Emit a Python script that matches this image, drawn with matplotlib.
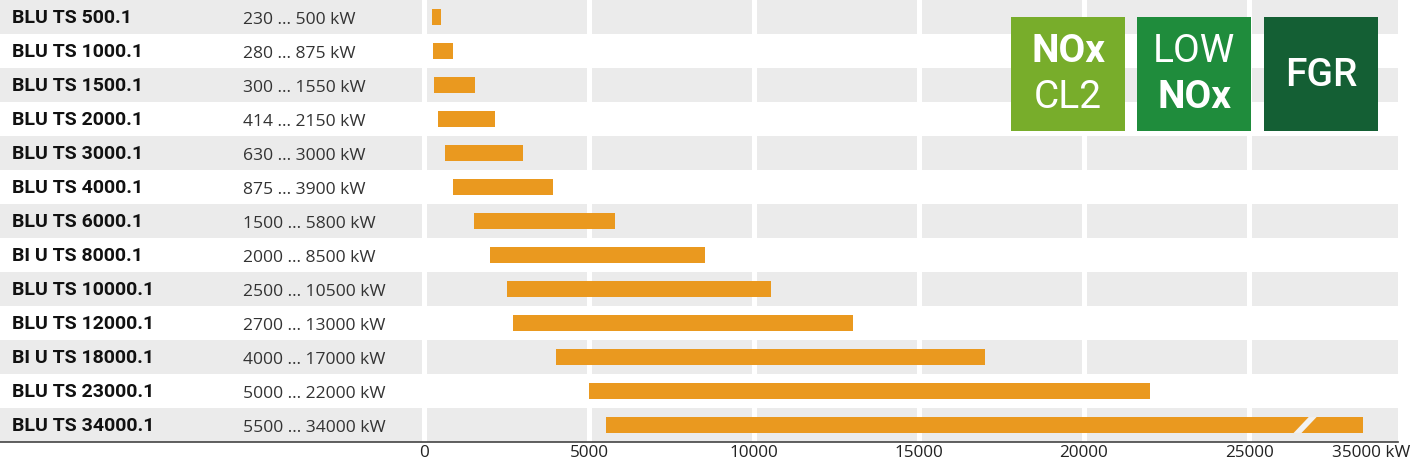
import matplotlib
matplotlib.use("Agg")
import matplotlib.pyplot as plt
from matplotlib.patches import Rectangle, Polygon
import matplotlib.transforms as mtransforms

# -----------------------------------------------------------------------
# Data
# -----------------------------------------------------------------------
models = ["BLU TS 500.1", "BLU TS 1000.1", "BLU TS 1500.1", "BLU TS 2000.1",
          "BLU TS 3000.1", "BLU TS 4000.1", "BLU TS 6000.1", "BI U TS 8000.1",
          "BLU TS 10000.1", "BLU TS 12000.1", "BI U TS 18000.1",
          "BLU TS 23000.1", "BLU TS 34000.1"]
p_min = [230, 280, 300, 414, 630, 875, 1500, 2000, 2500, 2700, 4000, 5000, 5500]
p_max = [500, 875, 1550, 2150, 3000, 3900, 5800, 8500, 10500, 13000, 17000,
         22000, 34000]
tick_values = [0, 5000, 10000, 15000, 20000, 25000, 35000]
tick_labels = ["0", "5000", "10000", "15000", "20000", "25000", "35000 kW"]
badges = [("NOx", "CL2"), ("LOW", "NOx"), ("FGR", None)]
badge_colors = ["#78ad2b", "#1f8c3c", "#145f34"]

# broken axis: everything past BREAK is squeezed
BREAK = 26700
SQUEEZE = 0.24


def fwd(v):
    return v if v <= BREAK else BREAK + (v - BREAK) * SQUEEZE


ORANGE = "#ea991f"
BAND = "#ebebeb"
W, H = 1416, 463
LABEL_FONT = ["Roboto", "DejaVu Sans"]
TEXT_FONT = ["Open Sans", "DejaVu Sans"]

plt.rcParams["font.family"] = TEXT_FONT

fig = plt.figure(figsize=(W / 100, H / 100), dpi=100)
ax = fig.add_axes([0, (H - 442) / H, 1398 / W, 442 / H])
ax.set_xlim(-424 / 33 * 1000, (1398 - 424) / 33 * 1000)
ax.set_ylim(len(models) - 0.5, -0.5)

for i in range(0, len(models), 2):
    ax.axhspan(i - 0.5, i + 0.5, color=BAND, lw=0, zorder=0)
for v in tick_values[:-1]:
    ax.axvline(v, color="white", lw=3.6, zorder=1)

bh = 0.47
starts = [fwd(v) for v in p_min]
ends = [fwd(v) for v in p_max]
ax.barh(range(len(models)), [e - s for s, e in zip(starts, ends)], left=starts,
        height=bh, color=ORANGE, lw=0, zorder=2)

# slanted break mark on the last bar
last = len(models) - 1
half_w, slant = 120, 230
yb, yt = last + bh / 2, last - bh / 2
ax.add_patch(Polygon([(BREAK - slant - half_w, yb), (BREAK - slant + half_w, yb),
                      (BREAK + slant + half_w, yt), (BREAK + slant - half_w, yt)],
                     closed=True, color="#f2f2f2", lw=0, zorder=3))

trans = mtransforms.blended_transform_factory(ax.transAxes, ax.transData)
for i, (m, a, b) in enumerate(zip(models, p_min, p_max)):
    ax.text(12 / 1398, i + 0.04, m, transform=trans, ha="left", va="center",
            fontsize=14, fontweight="bold", color="#111111", family=LABEL_FONT)
    ax.text(243 / 1398, i + 0.08, f"{a} ... {b} kW", transform=trans, ha="left",
            va="center", fontsize=12.6, color="#333333")

for side in ["top", "right", "left"]:
    ax.spines[side].set_visible(False)
ax.spines["bottom"].set_color("#444444")
ax.spines["bottom"].set_linewidth(1.2)
ax.set_yticks([])
ax.set_xticks([fwd(v) for v in tick_values])
ax.set_xticklabels(tick_labels, fontsize=12.3, color="#222222")
ax.tick_params(axis="x", length=0, pad=2)

# badges at top right
bx = [1011, 1137, 1264]
size = 114
for x0, (t1, t2), c in zip(bx, badges, badge_colors):
    fig.patches.append(Rectangle((x0 / W, 1 - (17 + size) / H), size / W, size / H,
                                 transform=fig.transFigure, color=c, lw=0))
    cx = (x0 + size / 2) / W
    if t2 is None:
        fig.text(cx, 1 - 76 / H, t1, ha="center", va="center", fontsize=28,
                 color="white", fontweight="medium", family=LABEL_FONT)
    else:
        w1 = "bold" if t1 == "NOx" else "normal"
        w2 = "bold" if t2 == "NOx" else "normal"
        fig.text(cx, 1 - 52 / H, t1, ha="center", va="center", fontsize=28,
                 color="white", fontweight=w1, family=LABEL_FONT)
        fig.text(cx, 1 - 98 / H, t2, ha="center", va="center", fontsize=28,
                 color="white", fontweight=w2, family=LABEL_FONT)

fig.savefig("out.png", dpi=100, facecolor="white")
